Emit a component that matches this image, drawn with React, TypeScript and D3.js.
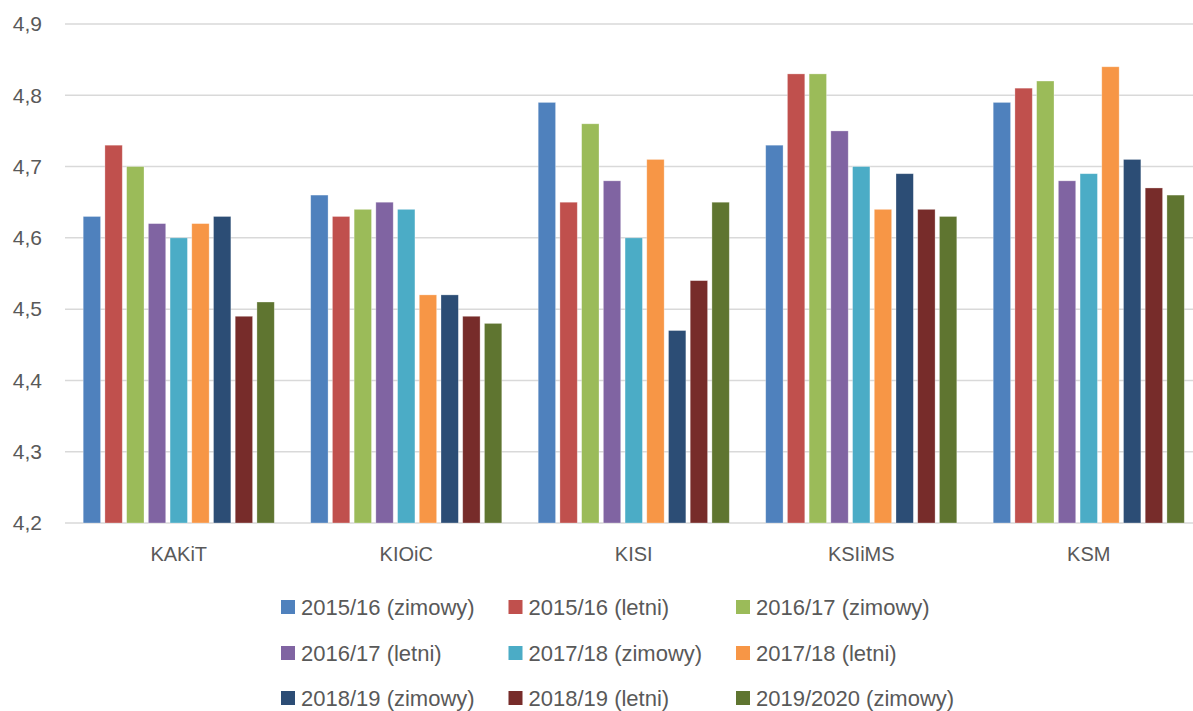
import React from 'react';
import * as d3 from 'd3';

const categories = ['KAKiT', 'KIOiC', 'KISI', 'KSIiMS', 'KSM'];

const seriesNames = [
  '2015/16 (zimowy)',
  '2015/16 (letni)',
  '2016/17 (zimowy)',
  '2016/17 (letni)',
  '2017/18 (zimowy)',
  '2017/18 (letni)',
  '2018/19 (zimowy)',
  '2018/19 (letni)',
  '2019/2020 (zimowy)',
];

const seriesColors = [
  '#4F81BD', '#C0504D', '#9BBB59', '#8064A2', '#4BACC6',
  '#F79646', '#2C4D75', '#772C2A', '#5F7530',
];

// one row per category, one value per series
const kakit = [4.63, 4.73, 4.70, 4.62, 4.60, 4.62, 4.63, 4.49, 4.51];
const kioic = [4.66, 4.63, 4.64, 4.65, 4.64, 4.52, 4.52, 4.49, 4.48];
const kisi = [4.79, 4.65, 4.76, 4.68, 4.60, 4.71, 4.47, 4.54, 4.65];
const ksiims = [4.73, 4.83, 4.83, 4.75, 4.70, 4.64, 4.69, 4.64, 4.63];
const ksm = [4.79, 4.81, 4.82, 4.68, 4.69, 4.84, 4.71, 4.67, 4.66];

const yTicks = [4.2, 4.3, 4.4, 4.5, 4.6, 4.7, 4.8, 4.9];

const values = [kakit, kioic, kisi, ksiims, ksm];

const width = 1193;
const height = 711;
const font = "'Liberation Sans', Arial, sans-serif";
const textColor = '#595959';

export default function App() {
  const x0 = d3.scaleBand<string>()
    .domain(categories)
    .range([65, 1202.5])
    .paddingInner(0.16)
    .paddingOuter(0.08);

  const x1 = d3.scaleBand<string>()
    .domain(seriesNames)
    .range([0, x0.bandwidth()])
    .paddingInner(0.2);

  const y = d3.scaleLinear().domain([4.2, 4.9]).range([523, 24]);
  const fmt = (v: number) => d3.format('.1f')(v).replace('.', ',');

  const legendLeft = 281;
  const legendStep = x0.step();
  const legendRows = [607, 653, 698];

  return (
    <div style={{ position: 'fixed', left: 0, top: 0, background: '#fff' }}>
      <svg width={width} height={height} style={{ display: 'block' }}>
        <rect width={width} height={height} fill="#fff" />
        {yTicks.map((t) => (
          <g key={t}>
            <line x1={65} x2={width} y1={y(t)} y2={y(t)} stroke="#d9d9d9" strokeWidth={1.5} />
            <text x={42} y={y(t)} dy="0.35em" textAnchor="end" fontFamily={font} fontSize={21} fill={textColor}>
              {fmt(t)}
            </text>
          </g>
        ))}
        {categories.map((c, ci) => (
          <g key={c} transform={`translate(${x0(c)},0)`}>
            {seriesNames.map((s, si) => (
              <rect
                key={s}
                x={x1(s)}
                y={y(values[ci][si])}
                width={x1.bandwidth()}
                height={y(4.2) - y(values[ci][si])}
                fill={seriesColors[si]}
                stroke="#fff"
                strokeOpacity={0.4}
                strokeWidth={0.75}
              />
            ))}
            <text
              x={x0.bandwidth() / 2}
              y={554}
              dy="0.35em"
              textAnchor="middle"
              fontFamily={font}
              fontSize={20}
              fill={textColor}
            >
              {c}
            </text>
          </g>
        ))}
        {seriesNames.map((s, i) => {
          const col = i % 3;
          const row = Math.floor(i / 3);
          const lx = legendLeft + col * legendStep;
          const ly = legendRows[row];
          return (
            <g key={s}>
              <rect x={lx} y={ly - 7} width={14} height={14} fill={seriesColors[i]} />
              <text x={lx + 20} y={ly} dy="0.35em" fontFamily={font} fontSize={22} fill={textColor}>
                {s}
              </text>
            </g>
          );
        })}
      </svg>
    </div>
  );
}
